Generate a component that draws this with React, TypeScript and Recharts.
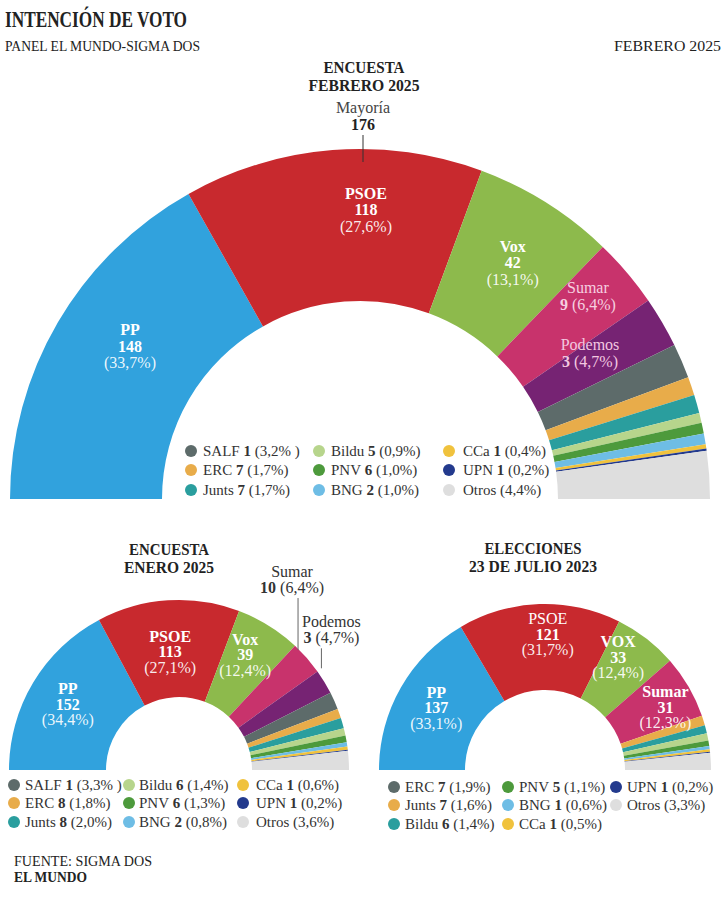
import React from 'react';
import { PieChart, Pie, Cell } from 'recharts';

const FONT = '"Liberation Serif", "DejaVu Serif", serif';

const partyColors: Record<string, string> = {
  PP: '#31a2dd', PSOE: '#c8292e', Vox: '#8dba4c', VOX: '#8dba4c', Sumar: '#c8336c', Podemos: '#762373',
  SALF: '#5d6b6a', ERC: '#e8ac4a', Junts: '#2a9e9e', Bildu: '#b7d58c', PNV: '#4d9a3c', BNG: '#6ebde5',
  CCa: '#f0c23d', UPN: '#233a8d', Otros: '#dedede',
};

// Encuesta febrero 2025
const febParties = ['PP', 'PSOE', 'Vox', 'Sumar', 'Podemos', 'SALF', 'ERC', 'Junts', 'Bildu', 'PNV', 'BNG', 'CCa', 'UPN', 'Otros'];
const febPct = [33.7, 27.6, 13.1, 6.4, 4.7, 3.2, 1.7, 1.7, 0.9, 1.0, 1.0, 0.4, 0.2, 4.4];
const febSeats = [148, 118, 42, 9, 3, 1, 7, 7, 5, 6, 2, 1, 1, null];

// Encuesta enero 2025
const eneParties = ['PP', 'PSOE', 'Vox', 'Sumar', 'Podemos', 'SALF', 'ERC', 'Junts', 'Bildu', 'PNV', 'BNG', 'CCa', 'UPN', 'Otros'];
const enePct = [34.4, 27.1, 12.4, 6.4, 4.7, 3.3, 1.8, 2.0, 1.4, 1.3, 0.8, 0.6, 0.2, 3.6];
const eneSeats = [152, 113, 39, 10, 3, 1, 8, 8, 6, 6, 2, 1, 1, null];

// Elecciones 23 de julio 2023
const eleParties = ['PP', 'PSOE', 'VOX', 'Sumar', 'ERC', 'Junts', 'Bildu', 'PNV', 'BNG', 'CCa', 'UPN', 'Otros'];
const elePct = [33.1, 31.7, 12.4, 12.3, 1.9, 1.6, 1.4, 1.1, 0.6, 0.5, 0.2, 3.3];
const eleSeats = [137, 121, 33, 31, 7, 7, 6, 5, 1, 1, 1, null];

// Legends (column-major order)
const febLegend = ['SALF', 'ERC', 'Junts', 'Bildu', 'PNV', 'BNG', 'CCa', 'UPN', 'Otros'];
const eneLegend = ['SALF', 'ERC', 'Junts', 'Bildu', 'PNV', 'BNG', 'CCa', 'UPN', 'Otros'];
const eleLegend = ['ERC', 'Junts', 'Bildu', 'PNV', 'BNG', 'CCa', 'UPN', 'Otros'];
const eleLegendDotKeys = ['SALF', 'ERC', 'Junts', 'PNV', 'BNG', 'CCa', 'UPN', 'Otros'];

type Row = { party: string; pct: number; seats: number | null };
const toRows = (p: string[], v: number[], s: (number | null)[]): Row[] =>
  p.map((party, i) => ({ party, pct: v[i], seats: s[i] }));

const febRows = toRows(febParties, febPct, febSeats);
const eneRows = toRows(eneParties, enePct, eneSeats);
const eleRows = toRows(eleParties, elePct, eleSeats);

const fmt = (v: number) => v.toFixed(1).replace('.', ',') + '%';

type LabelCfg = {
  dx?: number; dy?: number; nameBold?: boolean; lines?: 2 | 3; color?: string; pctColor?: string;
  outside?: boolean; da?: number; dr?: number; len?: number; tdx?: number;
};

const febLabels: Record<string, LabelCfg> = {
  PP: { dx: 6.5, dy: -14, nameBold: true, lines: 3 },
  PSOE: { dx: 27.5, dy: -16, nameBold: true, lines: 3 },
  Vox: { dx: 7, dy: -4, nameBold: true, lines: 3 },
  Sumar: { dx: 19, dy: -25.5, nameBold: false, lines: 2, color: '#f6cfe0', pctColor: '#f6cfe0' },
  Podemos: { dx: -6.5, dy: -7.4, nameBold: false, lines: 2, color: '#f3c8e0', pctColor: '#f3c8e0' },
};
const eneLabels: Record<string, LabelCfg> = {
  PP: { dx: -7, dy: -3, nameBold: true, lines: 3 },
  PSOE: { dx: -1, dy: 3, nameBold: true, lines: 3 },
  Vox: { dx: 2, dy: -12, nameBold: true, lines: 3 },
  Sumar: { outside: true, da: 4, dr: -1, len: 52, tdx: -6 },
  Podemos: { outside: true, da: 4.3, dr: 5, len: 20, tdx: 10 },
};
const eleLabels: Record<string, LabelCfg> = {
  PP: { dx: -2, dy: -1, nameBold: true, lines: 3 },
  PSOE: { dx: 7, dy: -12.5, nameBold: false, lines: 3 },
  VOX: { dx: -2, dy: -15, nameBold: true, lines: 3 },
  Sumar: { dx: 14, dy: -1, nameBold: true, lines: 3 },
};

const RAD = Math.PI / 180;

function makeLabel(rows: Row[], cfgMap: Record<string, LabelCfg>, lh: number, size: number) {
  return (props: any) => {
    const { cx, cy, midAngle, innerRadius, outerRadius, index } = props;
    const row = rows[index];
    const cfg = row ? cfgMap[row.party] : undefined;
    if (!cfg) return null;
    const pctTxt = `(${fmt(row.pct)})`;
    if (cfg.outside) {
      const a = (midAngle + (cfg.da || 0)) * RAD;
      const r = outerRadius + (cfg.dr || 0);
      const lx = cx + r * Math.cos(a);
      const ly = cy - r * Math.sin(a);
      const top = ly - (cfg.len || 20);
      const tx = lx + (cfg.tdx || 0);
      return (
        <g key={`ol-${index}`}>
          <line x1={lx} y1={ly} x2={lx} y2={top} stroke="#666" strokeWidth={1} />
          <text x={tx} y={top - 21} textAnchor="middle" fontFamily={FONT} fontSize={size} fill="#333">{row.party}</text>
          <text x={tx} y={top - 5} textAnchor="middle" fontFamily={FONT} fontSize={size} fill="#333">
            <tspan fontWeight={700}>{row.seats}</tspan>{' ' + pctTxt}
          </text>
        </g>
      );
    }
    const rm = (innerRadius + outerRadius) / 2;
    const x = cx + rm * Math.cos(midAngle * RAD) + (cfg.dx || 0);
    const yc = cy - rm * Math.sin(midAngle * RAD) + (cfg.dy || 0);
    const n = cfg.lines || 3;
    const base = (i: number) => yc + (i - (n - 1) / 2) * lh + size * 0.33;
    const color = cfg.color || '#ffffff';
    const pctColor = cfg.pctColor || 'rgba(255,255,255,0.92)';
    if (n === 2) {
      return (
        <g key={`il-${index}`}>
          <text x={x} y={base(0)} textAnchor="middle" fontFamily={FONT} fontSize={size} fill={color} fontWeight={cfg.nameBold ? 700 : 400}>{row.party}</text>
          <text x={x} y={base(1)} textAnchor="middle" fontFamily={FONT} fontSize={size} fill={pctColor}>
            <tspan fontWeight={700} fill={color}>{row.seats}</tspan>{' ' + pctTxt}
          </text>
        </g>
      );
    }
    return (
      <g key={`il-${index}`}>
        <text x={x} y={base(0)} textAnchor="middle" fontFamily={FONT} fontSize={size} fill={color} fontWeight={cfg.nameBold ? 700 : 400}>{row.party}</text>
        <text x={x} y={base(1)} textAnchor="middle" fontFamily={FONT} fontSize={size} fill={color} fontWeight={700}>{row.seats}</text>
        <text x={x} y={base(2)} textAnchor="middle" fontFamily={FONT} fontSize={size} fill={pctColor}>{pctTxt}</text>
      </g>
    );
  };
}

type LegendLayout = { dotX: number[]; textX: number[]; rowY: number[] };

function Legend({ items, rows, layout, dotKeys }: { items: string[]; rows: Row[]; layout: LegendLayout; dotKeys?: string[] }) {
  return (
    <g>
      {items.map((p, i) => {
        const col = Math.floor(i / 3);
        const r = i % 3;
        const row = rows.find((d) => d.party === p)!;
        const y = layout.rowY[r];
        const dotColor = partyColors[dotKeys ? dotKeys[i] : p];
        const close = p === 'SALF' ? ' )' : ')';
        return (
          <g key={p}>
            <circle cx={layout.dotX[col]} cy={y - 5} r={6} fill={dotColor} />
            <text x={layout.textX[col]} y={y} fontFamily={FONT} fontSize={15} fill="#333">
              {p}
              {row.seats != null ? <tspan fontWeight={700}>{' ' + row.seats}</tspan> : null}
              {' (' + fmt(row.pct) + close}
            </text>
          </g>
        );
      })}
    </g>
  );
}

const T = ({ x, y, children, anchor = 'start', size = 15, bold = false, len, color = '#222' }: any) => (
  <text x={x} y={y} textAnchor={anchor} fontFamily={FONT} fontSize={size} fontWeight={bold ? 700 : 400} fill={color}
    textLength={len} lengthAdjust={len ? 'spacingAndGlyphs' : undefined}>{children}</text>
);

export default function App() {
  return (
    <div style={{ position: 'relative', width: 726, height: 900, background: '#fff' }}>
      <style>{`body{margin:0;background:#fff}`}</style>
      <div style={{ position: 'absolute', left: 0, top: 0 }}>
        <PieChart width={726} height={900} margin={{ top: 0, right: 0, bottom: 0, left: 0 }}>
          <Pie data={febRows} dataKey="pct" nameKey="party" cx={360} cy={499} innerRadius={198} outerRadius={350}
            startAngle={180} endAngle={0} stroke="none" isAnimationActive={false} labelLine={false}
            label={makeLabel(febRows, febLabels, 16.5, 16)}>
            {febRows.map((d) => <Cell key={d.party} fill={partyColors[d.party]} />)}
          </Pie>
          <Pie data={eneRows} dataKey="pct" nameKey="party" cx={179} cy={770} innerRadius={73} outerRadius={170}
            startAngle={180} endAngle={0} stroke="none" isAnimationActive={false} labelLine={false}
            label={makeLabel(eneRows, eneLabels, 15.5, 16)}>
            {eneRows.map((d) => <Cell key={d.party} fill={partyColors[d.party]} />)}
          </Pie>
          <Pie data={eleRows} dataKey="pct" nameKey="party" cx={545} cy={770} innerRadius={80} outerRadius={166}
            startAngle={180} endAngle={0} stroke="none" isAnimationActive={false} labelLine={false}
            label={makeLabel(eleRows, eleLabels, 15.5, 16)}>
            {eleRows.map((d) => <Cell key={d.party} fill={partyColors[d.party]} />)}
          </Pie>
        </PieChart>
      </div>
      <svg width={726} height={900} style={{ position: 'absolute', left: 0, top: 0, pointerEvents: 'none' }}>
        <T x={5} y={27} size={23} bold len={182}>INTENCIÓN DE VOTO</T>
        <T x={5} y={51} size={15} len={195}>PANEL EL MUNDO-SIGMA DOS</T>
        <T x={721} y={51} size={15} anchor="end" len={107}>FEBRERO 2025</T>

        <T x={364} y={73} size={17} bold anchor="middle" len={81}>ENCUESTA</T>
        <T x={364} y={91} size={17} bold anchor="middle" len={111}>FEBRERO 2025</T>
        <T x={363} y={113} size={16} anchor="middle" color="#444">Mayoría</T>
        <T x={363} y={130} size={16} bold anchor="middle">176</T>
        <line x1={363} y1={135} x2={363} y2={162} stroke="#333" strokeWidth={1} />

        <Legend items={febLegend} rows={febRows}
          layout={{ dotX: [191, 319, 449], textX: [203, 331, 463], rowY: [456, 475, 495] }} />

        <T x={169} y={555} size={17} bold anchor="middle" len={80}>ENCUESTA</T>
        <T x={169} y={573} size={17} bold anchor="middle" len={90}>ENERO 2025</T>
        <T x={533} y={554} size={17} bold anchor="middle" len={97}>ELECCIONES</T>
        <T x={533} y={572} size={17} bold anchor="middle" len={128}>23 DE JULIO 2023</T>

        <Legend items={eneLegend} rows={eneRows}
          layout={{ dotX: [14, 129, 243], textX: [25, 139, 256], rowY: [790, 808, 827] }} />
        <Legend items={eleLegend} rows={eleRows} dotKeys={eleLegendDotKeys}
          layout={{ dotX: [394, 508, 616], textX: [405, 519, 627], rowY: [792, 810, 829] }} />

        <T x={14} y={866} size={14} len={138}>FUENTE: SIGMA DOS</T>
        <T x={14} y={882} size={14} bold len={73}>EL MUNDO</T>
      </svg>
    </div>
  );
}
